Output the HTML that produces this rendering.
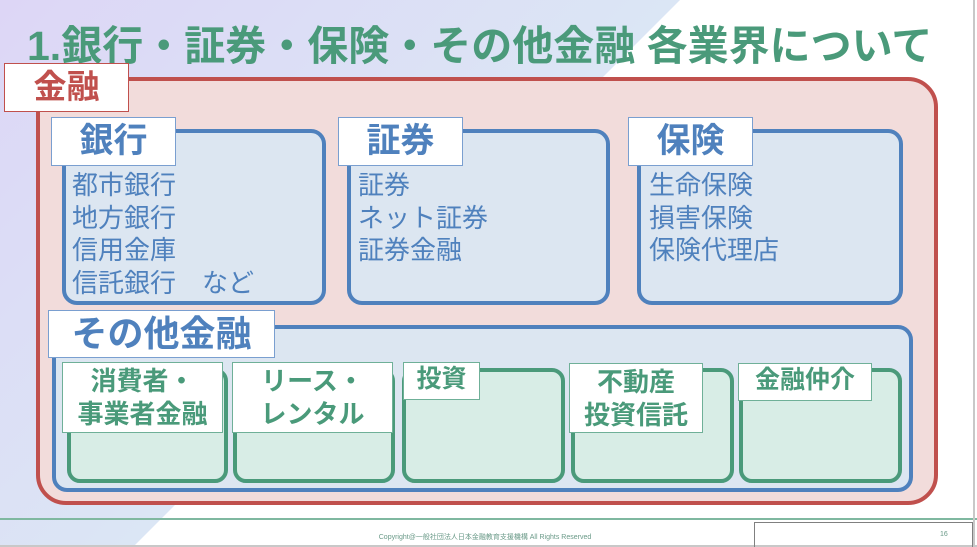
<!DOCTYPE html>
<html><head><meta charset="utf-8"><style>
*{margin:0;padding:0;box-sizing:border-box}
body{width:977px;height:547px;position:relative;overflow:hidden;background:#fff;font-family:"Liberation Sans","Noto Sans CJK JP",sans-serif}
.a{position:absolute}
.bg{left:0;top:0;width:977px;height:547px;background:linear-gradient(135deg,#ddd6f6 0%,#dbe6f5 45%,#f3e4f5 100%);clip-path:polygon(0 0,680px 0,133px 547px,0 547px)}
.title{left:27px;top:12px;font-size:41px;font-weight:bold;color:#4a9a7a;white-space:nowrap;letter-spacing:0px}
.red{left:36px;top:77px;width:902px;height:428px;background:#f2dcdb;border:4px solid #c0504d;border-radius:30px}
.rl{left:4px;top:63px;width:125px;height:49px;background:#fff;border:1.5px solid #c0504d;color:#c0504d;font-size:33px;font-weight:bold;text-align:center;line-height:46px}
.blue{background:#dce6f1;border:4px solid #4f81bd;border-radius:15px}
.bl{background:#fff;border:1.5px solid #7a9fd0;color:#4f81bd;font-weight:bold;text-align:center}
.items{color:#4f81bd;font-size:26px;line-height:32.5px;white-space:nowrap}
.green{top:368px;height:115px;background:#d8ede6;border:4px solid #4a9a7a;border-radius:13px}
.gl{background:#fff;border:1.5px solid #6fb098;color:#4a9a7a;font-weight:bold;font-size:26px;text-align:center;line-height:33px;white-space:nowrap}
</style></head><body>
<div class="a bg"></div>
<div class="a title">1.銀行・証券・保険・その他金融 各業界について</div>
<div class="a red"></div>
<div class="a rl">金融</div>

<div class="a blue" style="left:62px;top:129px;width:264px;height:176px"></div>
<div class="a bl" style="left:51px;top:117px;width:125px;height:49px;font-size:34px;line-height:46px">銀行</div>
<div class="a items" style="left:72px;top:169px">都市銀行<br>地方銀行<br>信用金庫<br>信託銀行　など</div>

<div class="a blue" style="left:347px;top:129px;width:263px;height:176px"></div>
<div class="a bl" style="left:338px;top:117px;width:125px;height:49px;font-size:34px;line-height:46px">証券</div>
<div class="a items" style="left:358px;top:169px">証券<br>ネット証券<br>証券金融</div>

<div class="a blue" style="left:637px;top:129px;width:266px;height:176px"></div>
<div class="a bl" style="left:628px;top:117px;width:125px;height:49px;font-size:34px;line-height:46px">保険</div>
<div class="a items" style="left:649px;top:169px">生命保険<br>損害保険<br>保険代理店</div>

<div class="a blue" style="left:52px;top:325px;width:861px;height:167px"></div>
<div class="a bl" style="left:48px;top:310px;width:227px;height:48px;font-size:36px;line-height:45px">その他金融</div>

<div class="a green" style="left:67px;width:161px"></div>
<div class="a gl" style="left:62px;top:362px;width:161px;height:71px;padding-top:2px">消費者・<br>事業者金融</div>
<div class="a green" style="left:233px;width:162px"></div>
<div class="a gl" style="left:232px;top:362px;width:161px;height:71px;padding-top:2px">リース・<br>レンタル</div>
<div class="a green" style="left:402px;width:163px"></div>
<div class="a gl" style="left:403px;top:362px;width:77px;height:38px;font-size:25px">投資</div>
<div class="a green" style="left:571px;width:163px"></div>
<div class="a gl" style="left:569px;top:363px;width:134px;height:70px;padding-top:2px">不動産<br>投資信託</div>
<div class="a green" style="left:739px;width:163px"></div>
<div class="a gl" style="left:738px;top:363px;width:134px;height:38px;font-size:25px">金融仲介</div>

<div class="a" style="left:0;top:518px;width:977px;height:1.5px;background:#7fb8a0"></div>
<div class="a" style="left:0;top:545px;width:977px;height:2px;background:#c8c8c8"></div>
<div class="a" style="left:973px;top:0;width:1.5px;height:547px;background:#c8c8c8"></div>
<div class="a" style="left:754px;top:522px;width:219px;height:25px;border:1.5px solid #808080;border-bottom:none"></div>
<div class="a" style="left:940px;top:531px;font-size:7px;color:#6a9a88">16</div>
<div class="a" style="left:335px;top:532px;width:300px;text-align:center;font-size:7px;color:#6a9a88;white-space:nowrap">Copyright@一般社団法人日本金融教育支援機構 All Rights Reserved</div>
</body></html>
